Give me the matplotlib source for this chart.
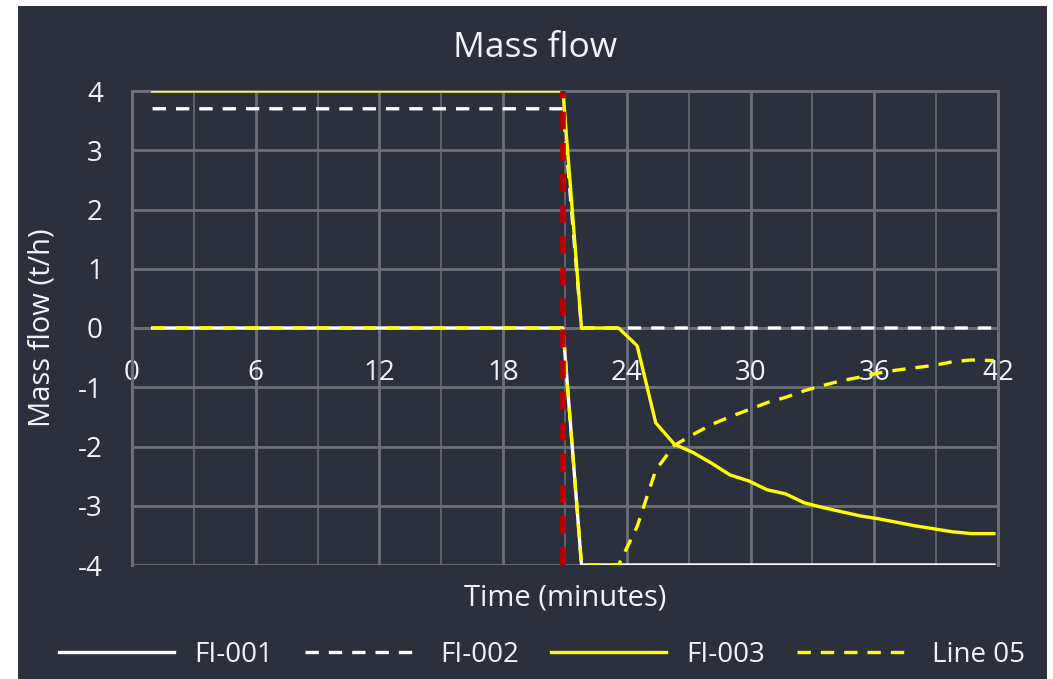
import matplotlib.pyplot as plt
from matplotlib.patches import Rectangle
from matplotlib.ticker import MultipleLocator

# time axis (minutes)
t_step = [1, 20.9, 21.8, 41.8]
t = [1, 20.9, 21.8, 22.7, 23.6, 24.5, 25.4, 26.3, 27.2, 28.1, 29.0, 29.9, 30.8,
     31.7, 32.6, 33.5, 34.4, 35.3, 36.2, 37.1, 38.0, 38.9, 39.8, 40.7, 41.8]

fi_001 = [0, 0, -4, -4]
fi_002 = [3.7, 3.7, 0, 0]
fi_003 = [4, 4, 0, 0, 0, -0.3, -1.6, -1.96, -2.1, -2.28, -2.48, -2.58, -2.73,
          -2.8, -2.95, -3.03, -3.1, -3.17, -3.22, -3.28, -3.34, -3.39, -3.44, -3.47, -3.47]
line_05 = [0, 0, -4, -4, -4, -3.35, -2.4, -1.98, -1.8, -1.63, -1.5, -1.38, -1.26,
           -1.17, -1.06, -0.97, -0.89, -0.83, -0.76, -0.71, -0.67, -0.63, -0.57, -0.54, -0.55]
event_time = 20.9

BG = "#2b303c"
GRID = "#6c6f79"
TXT = "#f2f3f6"
YEL = "#ffff00"

plt.rcParams["font.family"] = ["Open Sans", "DejaVu Sans"]
plt.rcParams["axes.unicode_minus"] = False

fig = plt.figure(figsize=(10.53, 6.79), dpi=100, facecolor="white")
fig.add_artist(Rectangle((18 / 1053, 0), 1029 / 1053, 673 / 679,
                         transform=fig.transFigure, facecolor=BG, edgecolor="none", zorder=0))

ax = fig.add_axes([132 / 1053, 1 - 565 / 679, 866 / 1053, 474 / 679])
ax.set_facecolor(BG)

lw = 2.4
ax.plot(t_step, fi_001, color="white", lw=lw, label="FI-001", zorder=3)
ax.plot(t_step, fi_002, color="white", lw=lw, ls=(0, (4, 3)), label="FI-002", zorder=3)
ax.plot(t, fi_003, color=YEL, lw=lw, label="FI-003", zorder=4)
ax.plot(t, line_05, color=YEL, lw=lw, ls=(0, (4, 3)), label="Line 05", zorder=5)
ax.plot([event_time, event_time], [-4, 4], color="#c00000", lw=4.0,
        ls=(0, (3.2, 2.4)), zorder=6)

ax.set_xlim(0, 42)
ax.set_ylim(-4, 4)
ax.xaxis.set_major_locator(MultipleLocator(6))
ax.xaxis.set_minor_locator(MultipleLocator(3))
ax.yaxis.set_major_locator(MultipleLocator(1))

ax.grid(which="major", axis="x", color=GRID, lw=2.0)
ax.grid(which="minor", axis="x", color=GRID, lw=1.1)
ax.grid(which="major", axis="y", color=GRID, lw=2.0)
ax.set_axisbelow(True)

for side in ["left", "right", "top", "bottom"]:
    ax.spines[side].set_color(GRID)
    ax.spines[side].set_linewidth(2.2)
ax.spines["bottom"].set_position(("data", 0))
ax.spines["bottom"].set_linewidth(2.0)

ax.tick_params(which="both", length=0, colors=TXT, labelsize=20)
ax.tick_params(axis="x", pad=22)
ax.tick_params(axis="y", pad=21)
ax.set_yticks(range(-4, 5))

ax.set_xlabel("Time (minutes)", color=TXT, fontsize=21)
ax.xaxis.set_label_coords(0.5, -0.04)
ax.set_ylabel("Mass flow (t/h)", color=TXT, fontsize=21)
ax.yaxis.set_label_coords(-0.087, 0.5)

fig.text(535 / 1053, 1 - 48 / 679, "Mass flow", color=TXT, fontsize=25.5,
         ha="center", va="center")

fig.legend(loc="center", bbox_to_anchor=(542 / 1053, 1 - 655 / 679), ncol=4,
           frameon=False, fontsize=20, labelcolor=TXT, handlelength=4.15,
           columnspacing=1.15, handletextpad=0.72)

fig.savefig("out.png", dpi=100, facecolor="white")
